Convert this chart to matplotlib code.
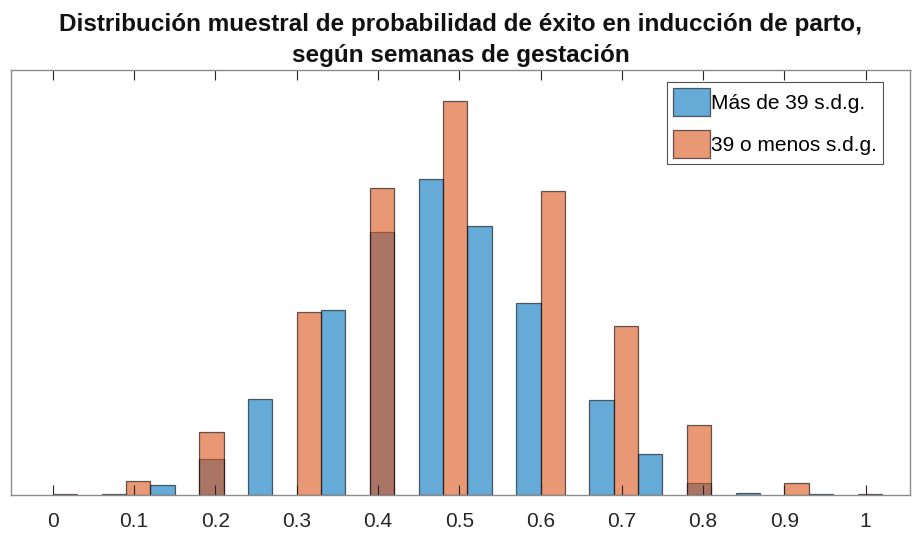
import matplotlib.pyplot as plt
import numpy as np

# left edge of each histogram bin (bin width 0.03) and its relative frequency
bin_width = 0.03
blue_left = [0.06, 0.12, 0.18, 0.24, 0.33, 0.39, 0.45, 0.51, 0.57, 0.66, 0.72, 0.78, 0.84, 0.93, 0.99]
blue_prob = [0.0004, 0.0063, 0.024, 0.0635, 0.1218, 0.1734, 0.2084, 0.1775, 0.1268,
             0.0628, 0.0268, 0.0076, 0.0012, 0.0004, 0.0002]
orange_left = [0.0, 0.09, 0.18, 0.30, 0.39, 0.48, 0.60, 0.69, 0.78, 0.90, 0.99]
orange_prob = [0.0004, 0.0091, 0.0416, 0.1205, 0.2025, 0.2593, 0.2003, 0.1115, 0.0464, 0.0082, 0.0004]

labels = ['Más de 39 s.d.g.', '39 o menos s.d.g.']
xticks = np.round(np.arange(0, 1.01, 0.1), 1)
xticklabels = ['0', '0.1', '0.2', '0.3', '0.4', '0.5', '0.6', '0.7', '0.8', '0.9', '1']

plt.rcParams['font.family'] = ['Liberation Sans', 'DejaVu Sans']

fig = plt.figure(figsize=(9.13, 5.35), dpi=100)
ax = fig.add_axes([0.012, 0.0748, 0.9847, 0.7942])

ax.bar(blue_left, blue_prob, width=bin_width, align='edge', color='#0072BD', alpha=0.6,
       edgecolor='black', linewidth=0.9, label=labels[0])
ax.bar(orange_left, orange_prob, width=bin_width, align='edge', color='#D95319', alpha=0.6,
       edgecolor='black', linewidth=0.9, label=labels[1])

ax.set_xlim(-0.0515, 1.0545)
ax.set_ylim(0, 0.28)
ax.set_xticks(xticks)
ax.set_xticklabels(xticklabels)
ax.set_yticks([])
ax.tick_params(axis='x', direction='in', length=7, width=0.8, top=True,
               labelsize=15, colors='#262626', pad=12)
for s in ax.spines.values():
    s.set_color('#8c8c8c')
    s.set_linewidth(1.0)

ax.set_title('Distribución muestral de probabilidad de éxito en inducción de parto,\nsegún semanas de gestación',
             fontsize=17.5, fontweight='bold', color='#111111', pad=6, linespacing=1.42)

leg = ax.legend(loc='upper right', bbox_to_anchor=(883 / 913, (535 - 82) / 535),
                bbox_transform=fig.transFigure, fontsize=15, frameon=True, fancybox=False,
                handlelength=1.75, handleheight=1.65, handletextpad=0.05,
                borderpad=0.3, labelspacing=0.7, borderaxespad=0)
leg.get_frame().set_edgecolor('#262626')
leg.get_frame().set_linewidth(0.8)
for h in leg.legend_handles:
    h.set_alpha(0.6)

fig.savefig('out.png', dpi=100)
